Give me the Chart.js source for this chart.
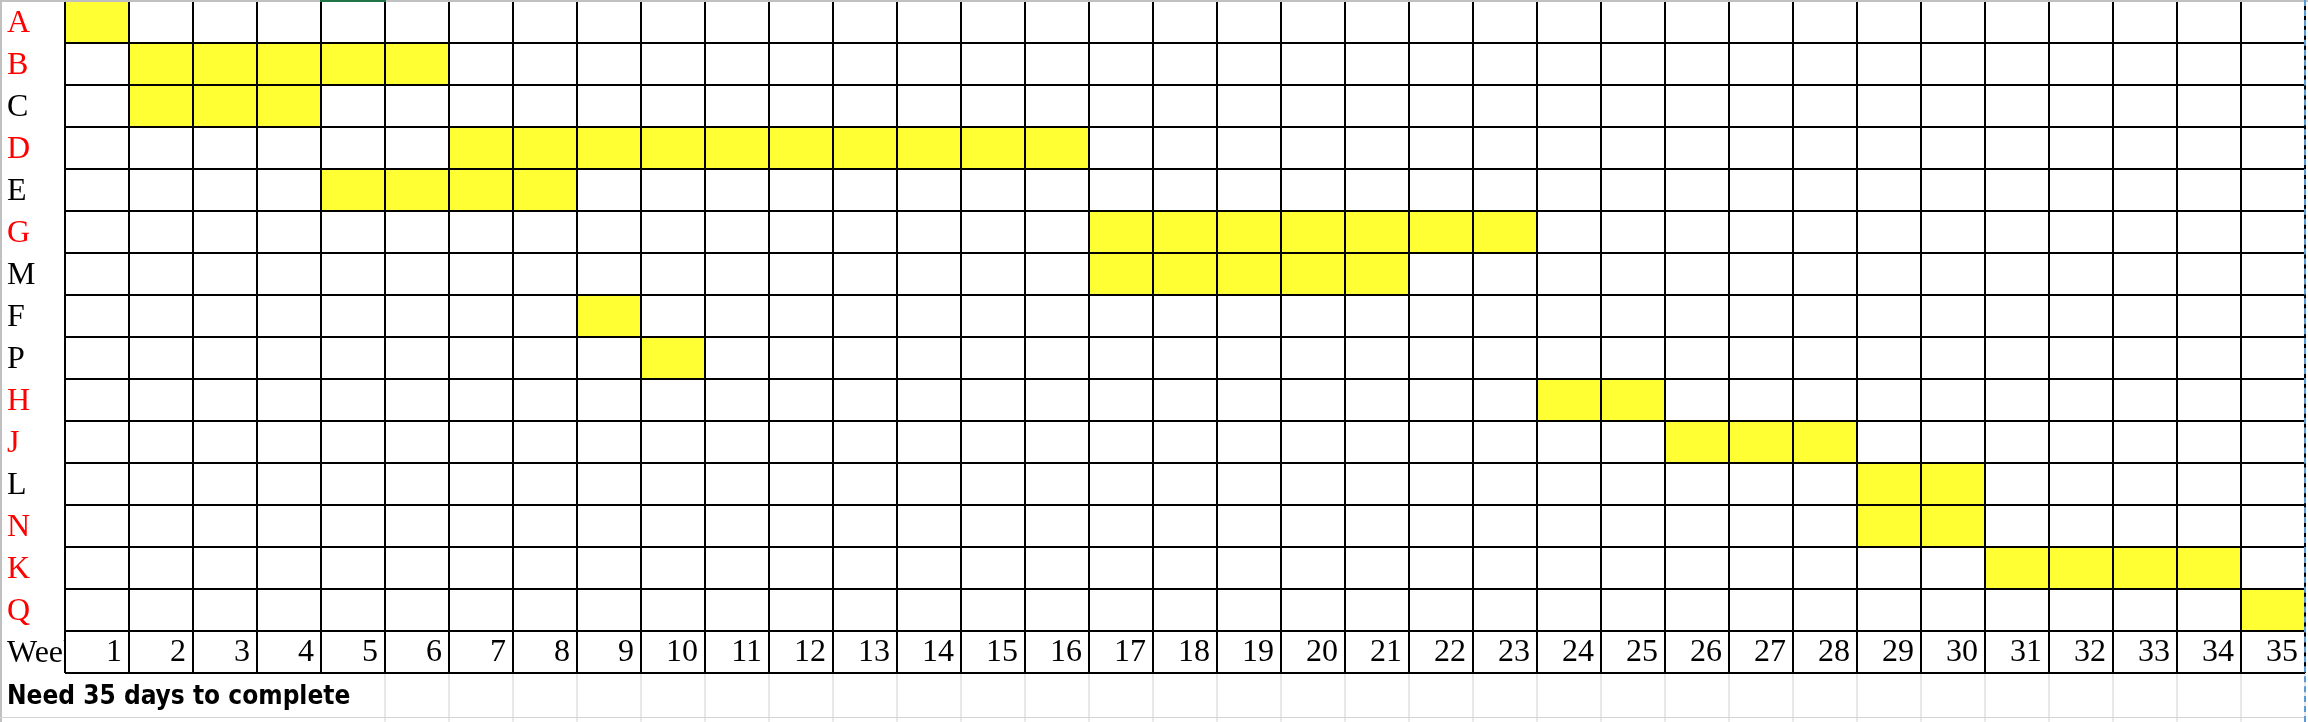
<!DOCTYPE html>
<html>
<head>
<meta charset="utf-8">
<title>Schedule</title>
<script src="https://cdn.jsdelivr.net/npm/chart.js@4.4.1/dist/chart.umd.min.js"></script>
<style>
    html, body { margin: 0; padding: 0; background: #fff; }
    #wrap { position: relative; width: 2308px; height: 722px; overflow: hidden; }
    #wrap canvas { position: absolute; left: 0; top: 0; }
    .deco { position: absolute; pointer-events: none; }
</style>
</head>
<body>
<div id="wrap">
    <canvas id="gantt" width="2308" height="722"></canvas>
    <!-- sheet chrome around the grid -->
    <div class="deco" style="left:0;top:0;width:2308px;height:2px;background:#c0c0c0"></div>
    <div class="deco" style="left:320px;top:0;width:66px;height:2px;background:#217346"></div>
    <div class="deco" style="left:0;top:0;width:2px;height:722px;background:#c0c0c0"></div>
    <div class="deco" style="left:0;top:717px;width:2304px;height:1px;background:#d4d4d4"></div>
    <div class="deco" style="left:2304px;top:0;width:0;height:722px;border-left:2px dashed #5b9bd5"></div>
</div>
<script>
// Tasks in sheet order, with the weeks each one occupies
const tasks = ['A', 'B', 'C', 'D', 'E', 'G', 'M', 'F', 'P', 'H', 'J', 'L', 'N', 'K', 'Q'];
const startWeek = [1, 2, 2, 7, 5, 17, 17, 9, 10, 24, 26, 29, 29, 31, 35];
const endWeek = [1, 6, 4, 16, 8, 23, 21, 9, 10, 25, 28, 30, 30, 34, 35];

// Tasks on the critical path (red labels)
const criticalTasks = ['A', 'B', 'D', 'G', 'H', 'J', 'N', 'K', 'Q'];

const weekRowLabel = 'Week';
const weekLabels = [1, 2, 3, 4, 5, 6, 7, 8, 9, 10, 11, 12, 13, 14, 15, 16, 17, 18,
    19, 20, 21, 22, 23, 24, 25, 26, 27, 28, 29, 30, 31, 32, 33, 34, 35];
const footnote = 'Need 35 days to complete';

const rowLabels = tasks.concat([weekRowLabel]);
const spans = tasks.map((t, i) => [startWeek[i] - 1, endWeek[i]]).concat([null]);

const serif = "'Liberation Serif', 'Times New Roman', serif";

new Chart(document.getElementById('gantt').getContext('2d'), {
    type: 'bar',
    data: {
        labels: rowLabels,
        datasets: [{
            data: spans,
            backgroundColor: '#ffff33',
            borderWidth: 0,
            borderSkipped: false,
            barPercentage: 1,
            categoryPercentage: 1
        }]
    },
    options: {
        indexAxis: 'y',
        responsive: false,
        animation: false,
        events: [],
        layout: {
            padding: { left: 7, top: 1, right: 3, bottom: 0 }
        },
        plugins: {
            legend: { display: false },
            tooltip: { enabled: false },
            title: {
                display: true,
                position: 'bottom',
                align: 'start',
                text: footnote,
                color: '#000000',
                font: { family: "'DejaVu Sans Condensed', 'DejaVu Sans', sans-serif", size: 26, weight: 'bold' },
                padding: { top: 8, bottom: 9 }
            }
        },
        scales: {
            x: {
                type: 'linear',
                position: 'bottom',
                min: 0,
                max: 35,
                afterFit: function(scale) {
                    scale.height = 1;
                    scale.paddingLeft = 0;
                    scale.paddingRight = 0;
                },
                border: { display: false },
                grid: {
                    z: 1,
                    color: '#000000',
                    lineWidth: 2,
                    drawTicks: true,
                    tickLength: 49,
                    tickWidth: 1,
                    tickColor: function(ctx) {
                        return ctx.tick && ctx.tick.value >= 5 ? '#d0d0d0' : 'rgba(0,0,0,0)';
                    }
                },
                ticks: {
                    // week numbers sit inside the last grid row, right aligned
                    mirror: true,
                    stepSize: 1,
                    autoSkip: false,
                    maxRotation: 0,
                    align: 'end',
                    labelOffset: -7,
                    padding: 1,
                    color: '#000000',
                    font: { family: serif, size: 32 },
                    callback: function(value) {
                        return value >= 1 ? String(weekLabels[value - 1]) : '';
                    }
                }
            },
            y: {
                type: 'category',
                offset: true,
                afterFit: function(scale) {
                    scale.width = 58;
                    scale.paddingTop = 0;
                    scale.paddingBottom = 0;
                },
                border: { display: false },
                grid: {
                    z: 1,
                    offset: true,
                    color: '#000000',
                    lineWidth: 2,
                    drawTicks: false
                },
                ticks: {
                    autoSkip: false,
                    crossAlign: 'far',
                    padding: 0,
                    labelOffset: 2,
                    font: { family: serif, size: 32 },
                    color: function(ctx) {
                        return criticalTasks.includes(rowLabels[ctx.index]) ? '#ff0000' : '#000000';
                    }
                }
            }
        }
    }
});
</script>
</body>
</html>
